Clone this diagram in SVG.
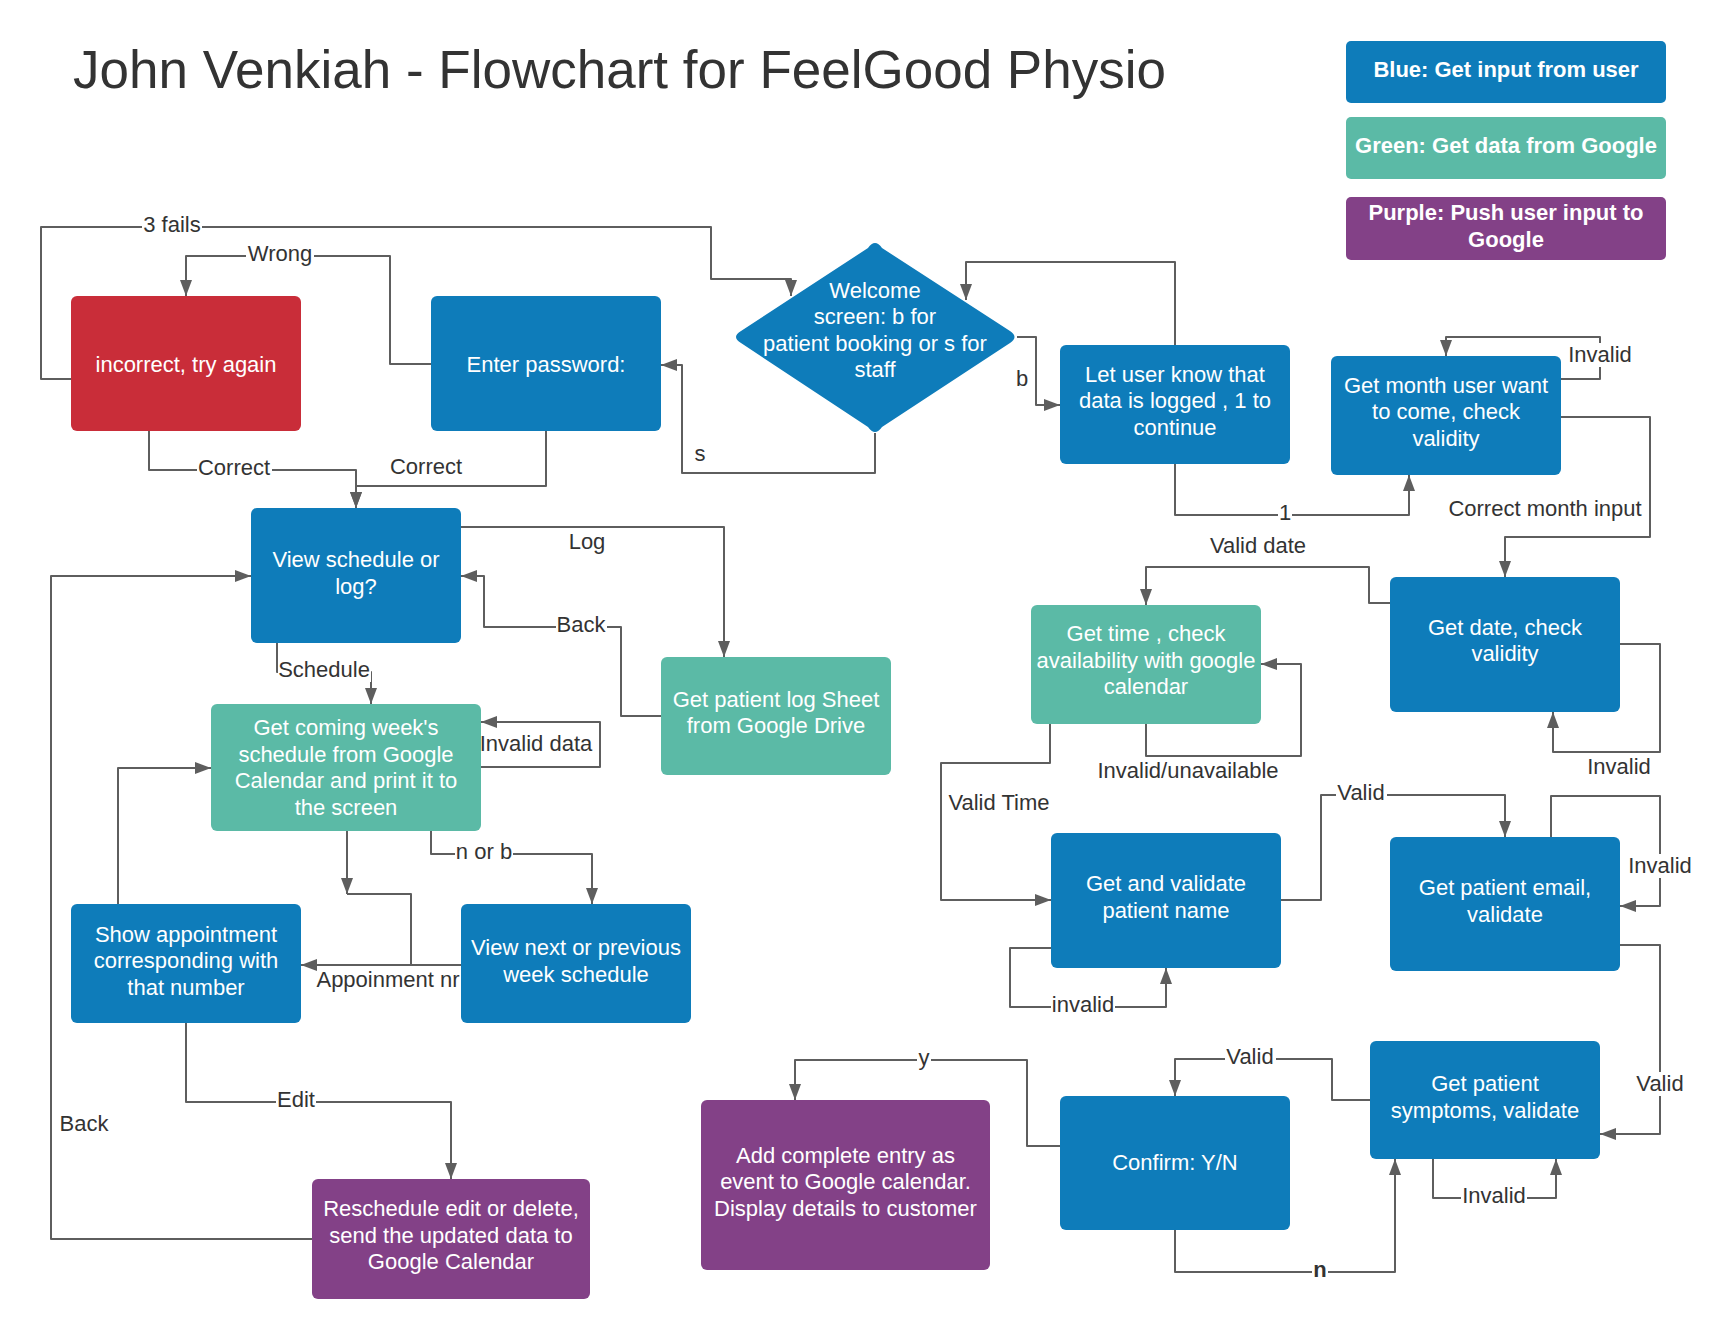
<svg xmlns="http://www.w3.org/2000/svg" width="1733" height="1340" viewBox="0 0 1733 1340">
<style>
.t{font-family:"Liberation Sans",Arial,sans-serif;font-size:22px;fill:#fff;text-anchor:middle}
.lg{font-family:"Liberation Sans",Arial,sans-serif;font-size:22px;font-weight:bold;fill:#fff;text-anchor:middle}
.lb{font-family:"Liberation Sans",Arial,sans-serif;font-size:22px;fill:#333;text-anchor:middle}
.blue{fill:#0E7CBA}
.green{fill:#5BBAA6}
.red{fill:#C92D39}
.purple{fill:#834187}
.c path{fill:none;stroke:#5E5E5E;stroke-width:2;stroke-linejoin:round}
.bg{fill:#fff}
</style>
<defs>
<marker id="arr" viewBox="0 0 16 12" refX="16" refY="6" markerWidth="16" markerHeight="12" orient="auto" markerUnits="userSpaceOnUse">
<path d="M0,0 L16,6 L0,12 z" fill="#5E5E5E"/>
</marker>
</defs>
<rect width="1733" height="1340" fill="#fff"/>
<text x="73" y="88" font-family="Liberation Sans,Arial,sans-serif" font-size="53" fill="#333">John Venkiah - Flowchart for FeelGood Physio</text>

<g id="legend-blue"><rect class="blue" x="1346" y="41" width="320" height="62" rx="5"/><text class="lg" x="1506" y="77">Blue: Get input from user</text></g>
<g id="legend-green"><rect class="green" x="1346" y="117" width="320" height="62" rx="5"/><text class="lg" x="1506" y="153">Green: Get data from Google</text></g>
<g id="legend-purple"><rect class="purple" x="1346" y="197" width="320" height="63" rx="5"/><text class="lg" x="1506" y="220">Purple: Push user input to</text><text class="lg" x="1506" y="247">Google</text></g>

<g class="c" id="connectors">
<path d="M71,379 H41 V227 H711 V279 H791 V296" marker-end="url(#arr)"/>
<path d="M431,364 H390 V256 H186 V296" marker-end="url(#arr)"/>
<path d="M149,431 V470 H356 V508" marker-end="url(#arr)"/>
<path d="M546,431 V486 H356 V508" marker-end="url(#arr)"/>
<path d="M875,433 V473 H682 V365 H661" marker-end="url(#arr)"/>
<path d="M1017,337 H1036 V405 H1060" marker-end="url(#arr)"/>
<path d="M1175,345 V262 H966 V300" marker-end="url(#arr)"/>
<path d="M1175,464 V515 H1409 V475" marker-end="url(#arr)"/>
<path d="M1561,379 H1600 V337 H1446 V356" marker-end="url(#arr)"/>
<path d="M1561,417 H1650 V537 H1505 V577" marker-end="url(#arr)"/>
<path d="M1620,644 H1660 V752 H1553 V712" marker-end="url(#arr)"/>
<path d="M1390,603 H1369 V567 H1146 V605" marker-end="url(#arr)"/>
<path d="M1146,724 V756 H1301 V664 H1261" marker-end="url(#arr)"/>
<path d="M1050,724 V763 H941 V900 H1051" marker-end="url(#arr)"/>
<path d="M1051,948 H1010 V1007 H1166 V968" marker-end="url(#arr)"/>
<path d="M1281,900 H1321 V795 H1505 V837" marker-end="url(#arr)"/>
<path d="M1551,837 V796 H1660 V906 H1620" marker-end="url(#arr)"/>
<path d="M1620,945 H1660 V1134 H1600" marker-end="url(#arr)"/>
<path d="M1433,1159 V1198 H1556 V1159" marker-end="url(#arr)"/>
<path d="M1370,1100 H1332 V1059 H1175 V1096" marker-end="url(#arr)"/>
<path d="M1175,1230 V1272 H1395 V1159" marker-end="url(#arr)"/>
<path d="M1060,1146 H1027 V1060 H795 V1100" marker-end="url(#arr)"/>
<path d="M461,527 H724 V657" marker-end="url(#arr)"/>
<path d="M661,716 H621 V627 H484 V576 H461" marker-end="url(#arr)"/>
<path d="M277,643 V672 H371 V704" marker-end="url(#arr)"/>
<path d="M481,767 H600 V722 H481" marker-end="url(#arr)"/>
<path d="M431,831 V854 H592 V904" marker-end="url(#arr)"/>
<path d="M347,831 V894" marker-end="url(#arr)"/>
<path d="M347,894 H411 V965"/>
<path d="M461,965 H301" marker-end="url(#arr)"/>
<path d="M118,904 V768 H211" marker-end="url(#arr)"/>
<path d="M186,1023 V1102 H451 V1179" marker-end="url(#arr)"/>
<path d="M312,1239 H51 V576 H251" marker-end="url(#arr)"/>
</g>

<g id="labels">
<rect class="bg" x="142" y="213" width="60" height="24"/><text class="lb" x="172" y="232">3 fails</text>
<rect class="bg" x="246" y="242" width="68" height="24"/><text class="lb" x="280" y="261">Wrong</text>
<rect class="bg" x="197" y="456" width="75" height="24"/><text class="lb" x="234" y="475">Correct</text>
<text class="lb" x="426" y="474">Correct</text>
<text class="lb" x="700" y="461">s</text>
<text class="lb" x="1022" y="386">b</text>
<rect class="bg" x="1278" y="501" width="14" height="24"/><text class="lb" x="1285" y="520">1</text>
<rect class="bg" x="1567" y="343" width="66" height="24"/><text class="lb" x="1600" y="362" fill="#111">Invalid</text>
<text class="lb" x="1545" y="516">Correct month input</text>
<text class="lb" x="1619" y="774">Invalid</text>
<text class="lb" x="1258" y="553">Valid date</text>
<text class="lb" x="1188" y="778">Invalid/unavailable</text>
<text class="lb" x="999" y="810">Valid Time</text>
<rect class="bg" x="1051" y="993" width="64" height="24"/><text class="lb" x="1083" y="1012">invalid</text>
<rect class="bg" x="1336" y="781" width="51" height="24"/><text class="lb" x="1361" y="800">Valid</text>
<rect class="bg" x="1627" y="854" width="66" height="24"/><text class="lb" x="1660" y="873">Invalid</text>
<rect class="bg" x="1634" y="1072" width="52" height="24"/><text class="lb" x="1660" y="1091">Valid</text>
<rect class="bg" x="1461" y="1184" width="66" height="24"/><text class="lb" x="1494" y="1203">Invalid</text>
<rect class="bg" x="1225" y="1045" width="51" height="24"/><text class="lb" x="1250" y="1064">Valid</text>
<rect class="bg" x="1312" y="1258" width="16" height="24"/><text class="lb" x="1320" y="1277" font-weight="bold">n</text>
<rect class="bg" x="917" y="1046" width="14" height="24"/><text class="lb" x="924" y="1065">y</text>
<text class="lb" x="587" y="549">Log</text>
<rect class="bg" x="556" y="613" width="51" height="24"/><text class="lb" x="581" y="632">Back</text>
<rect class="bg" x="278" y="658" width="93" height="24"/><text class="lb" x="324" y="677">Schedule</text>
<text class="lb" x="536" y="751">Invalid data</text>
<rect class="bg" x="455" y="840" width="58" height="24"/><text class="lb" x="484" y="859">n or b</text>
<text class="lb" x="388" y="987">Appoinment nr</text>
<rect class="bg" x="276" y="1088" width="40" height="24"/><text class="lb" x="296" y="1107">Edit</text>
<text class="lb" x="84" y="1131">Back</text>
</g>

<g id="n-incorrect"><rect class="red" x="71" y="296" width="230" height="135" rx="6"/><text class="t" x="186" y="372">incorrect, try again</text></g>
<g id="n-password"><rect class="blue" x="431" y="296" width="230" height="135" rx="6"/><text class="t" x="546" y="372">Enter password:</text></g>
<g id="n-welcome"><path class="blue" d="M868,248 Q875,238 882,248 L1010,331 Q1019,337 1010,343 L882,427 Q875,437 868,427 L741,343 Q731,337 741,331 Z"/>
<text class="t" x="875" y="298">Welcome</text><text class="t" x="875" y="324">screen: b for</text><text class="t" x="875" y="351">patient booking or s for</text><text class="t" x="875" y="377">staff</text></g>
<g id="n-letuser"><rect class="blue" x="1060" y="345" width="230" height="119" rx="6"/><text class="t" x="1175" y="382">Let user know that</text><text class="t" x="1175" y="408">data is logged , 1 to</text><text class="t" x="1175" y="435">continue</text></g>
<g id="n-month"><rect class="blue" x="1331" y="356" width="230" height="119" rx="6"/><text class="t" x="1446" y="393">Get month user want</text><text class="t" x="1446" y="419">to come, check</text><text class="t" x="1446" y="446">validity</text></g>
<g id="n-viewsched"><rect class="blue" x="251" y="508" width="210" height="135" rx="6"/><text class="t" x="356" y="567">View schedule or</text><text class="t" x="356" y="594">log?</text></g>
<g id="n-logsheet"><rect class="green" x="661" y="657" width="230" height="118" rx="6"/><text class="t" x="776" y="707">Get patient log Sheet</text><text class="t" x="776" y="733">from Google Drive</text></g>
<g id="n-coming"><rect class="green" x="211" y="704" width="270" height="127" rx="6"/><text class="t" x="346" y="735">Get coming week's</text><text class="t" x="346" y="762">schedule from Google</text><text class="t" x="346" y="788">Calendar and print it to</text><text class="t" x="346" y="815">the screen</text></g>
<g id="n-showappt"><rect class="blue" x="71" y="904" width="230" height="119" rx="6"/><text class="t" x="186" y="942">Show appointment</text><text class="t" x="186" y="968">corresponding with</text><text class="t" x="186" y="995">that number</text></g>
<g id="n-viewnext"><rect class="blue" x="461" y="904" width="230" height="119" rx="6"/><text class="t" x="576" y="955">View next or previous</text><text class="t" x="576" y="982">week schedule</text></g>
<g id="n-reschedule"><rect class="purple" x="312" y="1179" width="278" height="120" rx="6"/><text class="t" x="451" y="1216">Reschedule edit or delete,</text><text class="t" x="451" y="1243">send the updated data to</text><text class="t" x="451" y="1269">Google Calendar</text></g>
<g id="n-time"><rect class="green" x="1031" y="605" width="230" height="119" rx="6"/><text class="t" x="1146" y="641">Get time , check</text><text class="t" x="1146" y="668">availability with google</text><text class="t" x="1146" y="694">calendar</text></g>
<g id="n-date"><rect class="blue" x="1390" y="577" width="230" height="135" rx="6"/><text class="t" x="1505" y="635">Get date, check</text><text class="t" x="1505" y="661">validity</text></g>
<g id="n-name"><rect class="blue" x="1051" y="833" width="230" height="135" rx="6"/><text class="t" x="1166" y="891">Get and validate</text><text class="t" x="1166" y="918">patient name</text></g>
<g id="n-email"><rect class="blue" x="1390" y="837" width="230" height="134" rx="6"/><text class="t" x="1505" y="895">Get patient email,</text><text class="t" x="1505" y="922">validate</text></g>
<g id="n-symptoms"><rect class="blue" x="1370" y="1041" width="230" height="118" rx="6"/><text class="t" x="1485" y="1091">Get patient</text><text class="t" x="1485" y="1118">symptoms, validate</text></g>
<g id="n-confirm"><rect class="blue" x="1060" y="1096" width="230" height="134" rx="6"/><text class="t" x="1175" y="1170">Confirm: Y/N</text></g>
<g id="n-add"><rect class="purple" x="701" y="1100" width="289" height="170" rx="6"/><text class="t" x="845.5" y="1163">Add complete entry as</text><text class="t" x="845.5" y="1189">event to Google calendar.</text><text class="t" x="845.5" y="1216">Display details to customer</text></g>
</svg>
